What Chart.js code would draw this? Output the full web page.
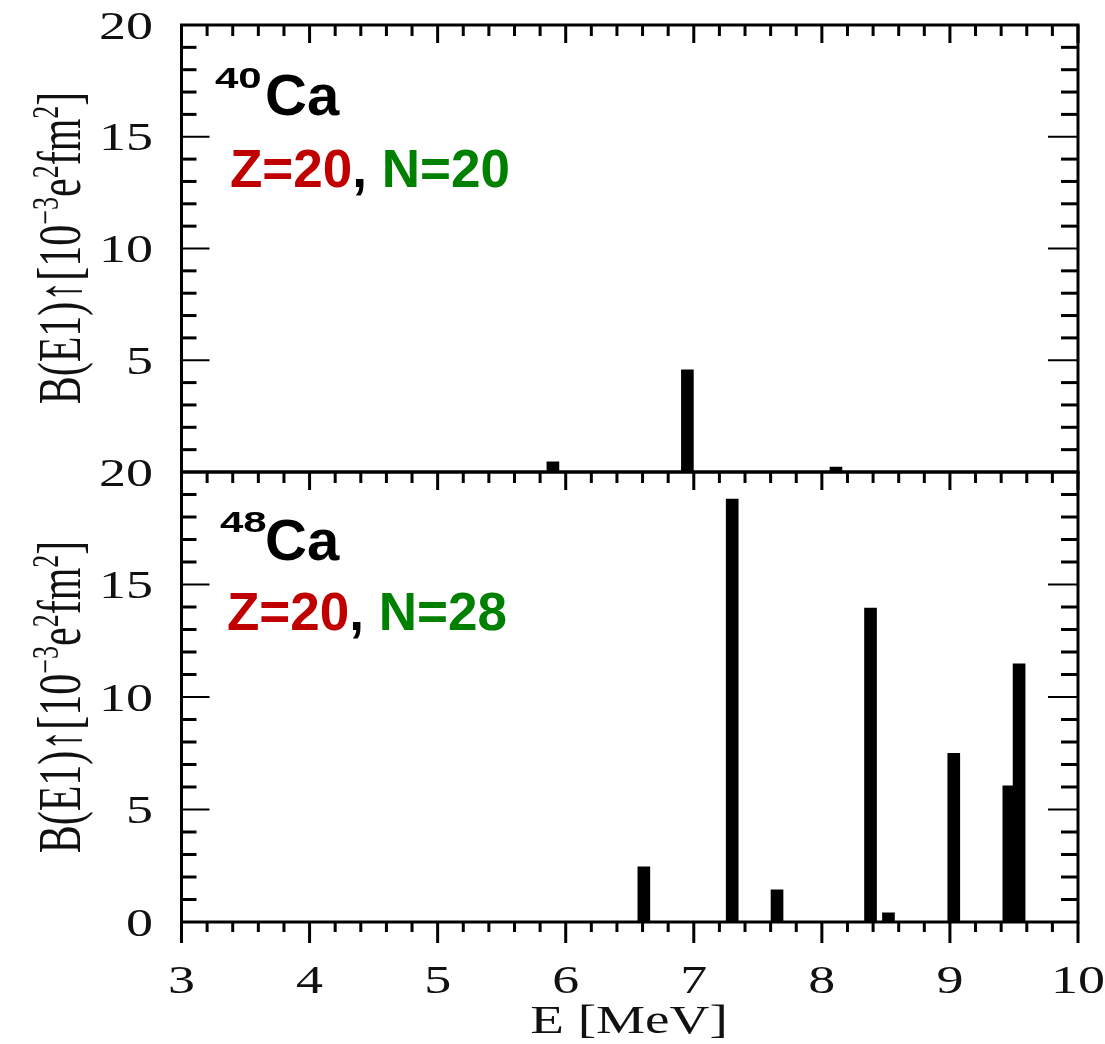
<!DOCTYPE html>
<html>
<head>
<meta charset="utf-8">
<script src="https://cdn.jsdelivr.net/npm/chart.js@4.4.0/dist/chart.umd.min.js"></script>
<style>
  html, body { margin: 0; padding: 0; background: #fff; }
  #wrap { position: relative; width: 1105px; height: 1044px; overflow: hidden; }
  canvas { position: absolute; left: 0; }
</style>
</head>
<body>
<div id="wrap">
  <canvas id="ca48" width="1105" height="604" style="top:440px"></canvas>
  <canvas id="ca40" width="1105" height="500" style="top:0px"></canvas>
</div>
<script>
// E1 levels: energy in MeV, B(E1) in 10^-3 e^2 fm^2
const ca40Energy = [5.90, 6.95, 8.11];
const ca40Strength = [0.45, 4.57, 0.22];
const ca48Energy = [6.61, 7.30, 7.65, 8.38, 8.52, 9.03, 9.46, 9.54];
const ca48Strength = [2.45, 18.8, 1.43, 13.95, 0.41, 7.5, 6.05, 11.47];

const xTicks = [3, 4, 5, 6, 7, 8, 9, 10];
const yTicksTop = [5, 10, 15, 20];
const yTicksBottom = [0, 5, 10, 15, 20];

const SERIF = '"Liberation Serif", "Times New Roman", serif';
const SANS = '"Liberation Sans", Arial, sans-serif';

// text drawn a bit wider than the font, like the rest of the figure
function wideText(ctx, str, x, y, font, sx, align) {
  ctx.save();
  ctx.font = font;
  ctx.translate(x, y);
  ctx.scale(sx, 1);
  const w = ctx.measureText(str).width;
  let dx = 0;
  if (align === 'center') dx = -w / 2;
  else if (align === 'right') dx = -w;
  ctx.textAlign = 'left';
  ctx.textBaseline = 'alphabetic';
  ctx.fillText(str, dx, 0);
  ctx.restore();
}

function yTitle(ctx, xBase, yMid) {
  const parts = [['B(E1)\u2191[10', 0], ['\u22123', 1], ['e', 0], ['2', 1], ['fm', 0], ['2', 1], [']', 0]];
  const big = 42, small = 26;
  ctx.save();
  ctx.fillStyle = '#111';
  ctx.translate(xBase, yMid);
  ctx.rotate(-Math.PI / 2);
  ctx.scale(1, 1.45);
  ctx.textBaseline = 'alphabetic';
  let total = 0;
  parts.forEach(([s, sup]) => {
    ctx.font = (sup ? small : big) + 'px ' + SERIF;
    total += ctx.measureText(s).width;
  });
  let x = -total / 2;
  parts.forEach(([s, sup]) => {
    ctx.font = (sup ? small : big) + 'px ' + SERIF;
    ctx.fillText(s, x, sup ? -15 : 0);
    x += ctx.measureText(s).width;
  });
  ctx.restore();
}

function nucleusLabel(ctx, mass, nn, massY, caY, zY, zX) {
  ctx.fillStyle = '#000';
  wideText(ctx, mass, massY[0], massY[1], 'bold 30px ' + SANS, 1.4, 'left');
  wideText(ctx, 'Ca', 265, caY, 'bold 58px ' + SANS, 1, 'left');
  ctx.save();
  ctx.font = 'bold 53px ' + SANS;
  ctx.textBaseline = 'alphabetic';
  let x = zX;
  const bits = [['Z=20', '#c00000'], [', ', '#000'], ['N=' + nn, '#008000']];
  bits.forEach(([s, c]) => {
    ctx.fillStyle = c;
    ctx.fillText(s, x, zY);
    x += ctx.measureText(s).width;
  });
  ctx.restore();
}

const framePlugin = {
  id: 'frame',
  afterDatasetsDraw(chart, args, o) {
    const { ctx, chartArea: a, scales: { x, y } } = chart;
    ctx.save();
    ctx.strokeStyle = '#000';
    const line = (x1, y1, x2, y2, w) => {
      ctx.lineWidth = w;
      ctx.beginPath();
      ctx.moveTo(x1, y1);
      ctx.lineTo(x2, y2);
      ctx.stroke();
    };
    // y ticks: minor every 1, major every 5, pointing inwards
    for (let v = 1; v < 20; v++) {
      const py = y.getPixelForValue(v);
      const major = v % 5 === 0;
      line(a.left, py, a.left + (major ? 28 : 15), py, major ? 2 : 3);
      line(a.right, py, a.right - (major ? 30 : 17), py, major ? 2 : 3);
    }
    // x ticks: minor every 0.2, major every 1
    for (let i = 0; i <= 35; i++) {
      const px = x.getPixelForValue(3 + i * 0.2);
      const major = i % 5 === 0;
      line(px, a.top, px, a.top + (major ? 18 : 11), 3);
      if (o.bottomTicks) line(px, a.bottom, px, a.bottom + (major ? 21 : 10), 3);
    }
    ctx.lineWidth = 3;
    ctx.strokeRect(a.left, a.top, a.right - a.left, a.bottom - a.top);
    ctx.restore();
  },
  afterDraw(chart, args, o) {
    const { ctx, scales: { x, y } } = chart;
    ctx.save();
    ctx.translate(0, -o.top);
    ctx.fillStyle = '#111';
    o.yTicks.forEach(v => {
      wideText(ctx, String(v), 153, y.getPixelForValue(v) + o.top + 13.5, '40px ' + SERIF, 1.35, 'right');
    });
    if (o.xLabels) {
      xTicks.forEach(v => {
        wideText(ctx, String(v), x.getPixelForValue(v), 993, '40px ' + SERIF, 1.35, 'center');
      });
      wideText(ctx, 'E [MeV]', 629, 1033, '40px ' + SERIF, 1.38, 'center');
    }
    yTitle(ctx, 80, o.titleY);
    o.label(ctx);
    ctx.restore();
  }
};

function makePanel(id, energy, strength, pad, opts) {
  return new Chart(document.getElementById(id), {
    type: 'bar',
    data: {
      datasets: [{
        data: energy.map((e, i) => ({ x: e, y: strength[i] })),
        backgroundColor: '#000',
        borderWidth: 0,
        barThickness: 12,
        grouped: false
      }]
    },
    options: {
      responsive: false,
      animation: false,
      layout: { padding: pad },
      plugins: { legend: { display: false }, tooltip: { enabled: false }, frame: opts },
      scales: {
        x: { type: 'linear', min: 3, max: 10, offset: false, display: false },
        y: { type: 'linear', min: 0, max: 20, display: false }
      }
    },
    plugins: [framePlugin]
  });
}

makePanel('ca40', ca40Energy, ca40Strength,
  { left: 181.5, right: 27, top: 25, bottom: 28 },
  {
    top: 0, yTicks: yTicksTop, xLabels: false, bottomTicks: false, titleY: 248,
    label: ctx => nucleusLabel(ctx, '40', '20', [215, 88], 115, 187, 230)
  });

makePanel('ca48', ca48Energy, ca48Strength,
  { left: 181.5, right: 27, top: 32, bottom: 122 },
  {
    top: 440, yTicks: yTicksBottom, xLabels: true, bottomTicks: true, titleY: 697,
    label: ctx => nucleusLabel(ctx, '48', '28', [220, 532], 560, 630, 227)
  });
</script>
</body>
</html>
